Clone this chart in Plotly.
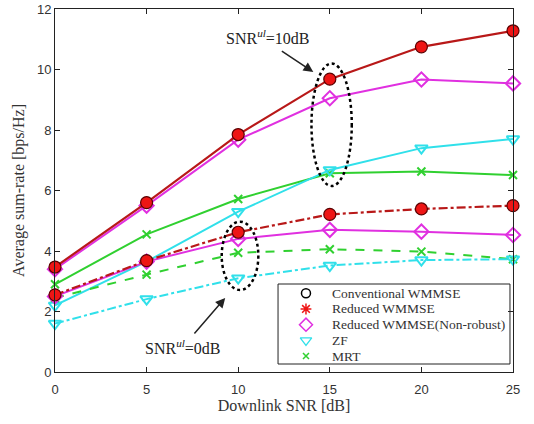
import plotly.graph_objects as go

snr = [0, 5, 10, 15, 20, 25]

# SNR_ul = 10 dB (solid)
conv_10 = [3.47, 5.60, 7.85, 9.68, 10.75, 11.28]
red_10 = [3.47, 5.60, 7.85, 9.68, 10.75, 11.28]
nonrob_10 = [3.40, 5.50, 7.68, 9.05, 9.67, 9.54]
zf_10 = [2.20, 3.65, 5.30, 6.68, 7.40, 7.70]
mrt_10 = [2.90, 4.55, 5.72, 6.57, 6.63, 6.51]

# SNR_ul = 0 dB (dashed)
conv_0 = [2.55, 3.68, 4.62, 5.21, 5.39, 5.50]
red_0 = [2.55, 3.68, 4.62, 5.21, 5.39, 5.50]
nonrob_0 = [2.50, 3.65, 4.40, 4.70, 4.64, 4.53]
zf_0 = [1.60, 2.41, 3.10, 3.52, 3.70, 3.73]
mrt_0 = [2.45, 3.22, 3.94, 4.06, 3.98, 3.73]

legend_names = ["Conventional WMMSE", "Reduced WMMSE", "Reduced WMMSE(Non-robust)", "ZF", "MRT"]

x_ticks = [0, 5, 10, 15, 20, 25]
y_ticks = [0, 2, 4, 6, 8, 10, 12]

DRED = "#b81818"
RED = "#ee1515"
MAG = "#e030e0"
CYAN = "#30e0ea"
GREEN = "#30d030"

fig = go.Figure()

def add(y, color, dash, symbol, mcolor, mfill=None, size=10, lw=2, width=2.0):
    fig.add_trace(go.Scatter(
        x=snr, y=y, mode="lines+markers", showlegend=False, cliponaxis=False,
        line=dict(color=color, dash=dash, width=width),
        marker=dict(symbol=symbol, size=size,
                    color=mfill if mfill else mcolor,
                    line=dict(color=mcolor, width=lw))))

for (conv, red, nr, zf, mrt, dsh, dsh2) in [
        (conv_10, red_10, nonrob_10, zf_10, mrt_10, "solid", "solid"),
        (conv_0, red_0, nonrob_0, zf_0, mrt_0, "dashdot", "dash")]:
    add(mrt, GREEN, dsh2, "x-thin-open", GREEN, size=8, lw=2)
    add(zf, CYAN, dsh, "triangle-down-open", CYAN, size=11)
    add(nr, MAG, "solid", "diamond-open", MAG, size=11)
    add(conv, DRED, dsh, "circle", "#5a0000", mfill=RED, size=12, lw=1.2, width=2.2)

serif = "Liberation Serif, Times New Roman, serif"

# ---- manual legend (drawn in a 0..1 overlay frame) ----
leg_style = [
    ("circle-open", "black", 9, 1.5),
    ("asterisk-open", RED, 9, 1.5),
    ("diamond-open", MAG, 10, 1.5),
    ("triangle-down-open", CYAN, 10, 1.3),
    ("x-thin-open", GREEN, 6, 1.5),
]
leg_box = dict(x0=0.487, x1=0.9934, y0=0.022, y1=0.2424)
row_top, row_step = 0.2168, 0.0432
key_x, text_x = 0.548, 0.600

fig.add_shape(type="rect", xref="paper", yref="paper", layer="below",
              fillcolor="white", line=dict(color="#222", width=1), **leg_box)
for i, (name, (sym, col, sz, lw)) in enumerate(zip(legend_names, leg_style)):
    ry = row_top - i * row_step
    fig.add_trace(go.Scatter(
        x=[key_x], y=[ry], xaxis="x2", yaxis="y2", mode="markers", showlegend=False,
        hoverinfo="skip",
        marker=dict(symbol=sym, size=sz, color=col, line=dict(color=col, width=lw))))
    fig.add_annotation(x=text_x, y=ry, xref="paper", yref="paper", xanchor="left", yanchor="middle",
                       text=name, showarrow=False, font=dict(family=serif, size=13.5, color="#333"))

# dotted ellipses
fig.add_shape(type="circle", xref="x", yref="y", x0=14.0, x1=16.2, y0=6.15, y1=10.2,
              line=dict(color="black", width=2.5, dash="dot"))
fig.add_shape(type="circle", xref="x", yref="y", x0=9.1, x1=11.1, y0=2.71, y1=4.97,
              line=dict(color="black", width=2.5, dash="dot"))

# annotations
fig.add_annotation(x=11.64, y=11.07, xref="x", yref="y", text="SNR<sup><i>ul</i></sup>=10dB",
                   showarrow=False, font=dict(family=serif, size=16, color="#222"))
fig.add_annotation(x=14.1, y=9.92, ax=12.3, ay=10.64, xref="x", yref="y", axref="x", ayref="y",
                   text="", showarrow=True, arrowhead=2, arrowsize=1.3, arrowwidth=1.5, arrowcolor="#222")
fig.add_annotation(x=7.0, y=0.83, xref="x", yref="y", text="SNR<sup><i>ul</i></sup>=0dB",
                   showarrow=False, font=dict(family=serif, size=16, color="#222"))
fig.add_annotation(x=9.29, y=2.45, ax=7.54, ay=1.22, xref="x", yref="y", axref="x", ayref="y",
                   text="", showarrow=True, arrowhead=2, arrowsize=1.3, arrowwidth=1.5, arrowcolor="#222")

axis_common = dict(showgrid=False, zeroline=False, showline=True, linecolor="#222", linewidth=1,
                   mirror="ticks", ticks="inside", ticklen=5, tickcolor="#222", automargin=False,
                   tickfont=dict(family="Liberation Sans, Arial, sans-serif", size=13, color="#333"))

fig.update_layout(
    width=534, height=424,
    margin=dict(l=55, r=21, t=9, b=52, autoexpand=False),
    paper_bgcolor="white", plot_bgcolor="white",
    xaxis=dict(range=[0, 25], tickvals=x_ticks, ticklabelstandoff=5,
               title=dict(text="Downlink SNR [dB]", font=dict(family=serif, size=16, color="#333"), standoff=2),
               **axis_common),
    yaxis=dict(range=[0, 12], tickvals=y_ticks,
               title=dict(text="Average sum-rate [bps/Hz]", font=dict(family=serif, size=16, color="#333"), standoff=8),
               **axis_common),
    xaxis2=dict(range=[0, 1], overlaying="x", visible=False, fixedrange=True),
    yaxis2=dict(range=[0, 1], overlaying="y", visible=False, fixedrange=True),
    showlegend=False,
)

fig.write_html("out.html", config={"displayModeBar": False},
               post_script="document.body.style.margin='0px';")
